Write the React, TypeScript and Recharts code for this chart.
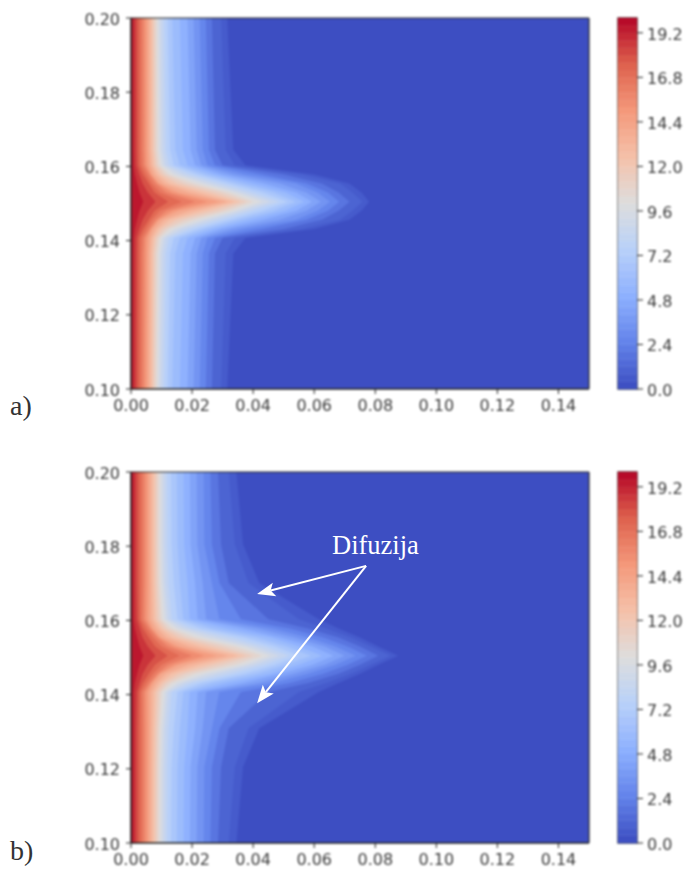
import {
  Area,
  Bar,
  BarChart,
  ComposedChart,
  ReferenceArea,
  ReferenceLine,
  XAxis,
  YAxis,
} from "recharts";

const xTicks = [0, 0.02, 0.04, 0.06, 0.08, 0.1, 0.12, 0.14];
const yTicks = [0.1, 0.12, 0.14, 0.16, 0.18, 0.2];
const barTicks = [0, 2.4, 4.8, 7.2, 9.6, 12, 14.4, 16.8, 19.2];

// contour levels drawn in the two plots
const levels = [
  0.4, 0.8, 1.6, 2.4, 3.2, 4, 4.8, 5.6, 6.4, 7.2, 8, 8.8, 9.6, 10.4, 11.2, 12, 12.8, 13.6, 14.4,
  15.2, 16, 16.8, 17.6, 18.4, 19.2,
];

// steps of the colorbar
const barLevels = [
  0, 0.4, 0.8, 1.2, 1.6, 2, 2.4, 2.8, 3.2, 3.6, 4, 4.4, 4.8, 5.2, 5.6, 6, 6.4, 6.8, 7.2, 7.6, 8,
  8.4, 8.8, 9.2, 9.6, 10, 10.4, 10.8, 11.2, 11.6, 12, 12.4, 12.8, 13.2, 13.6, 14, 14.4, 14.8, 15.2,
  15.6, 16, 16.4, 16.8, 17.2, 17.6, 18, 18.4, 18.8, 19.2, 19.6,
];

// y rows of plot a), the jet sits on the middle row
const rowsA = [
  0.1, 0.1365, 0.1407, 0.14315, 0.1456, 0.14805, 0.1505, 0.15295, 0.1554, 0.15785, 0.1603, 0.1645,
  0.2,
];

// x reach of each level, from the jet row outwards
const contoursA = [
  [0.078, 0.0755, 0.0715, 0.06, 0.0375, 0.0335, 0.0315],
  [0.0758, 0.0725, 0.0685, 0.056, 0.034, 0.031, 0.0295],
  [0.0716, 0.068, 0.0625, 0.05, 0.03, 0.0275, 0.0265],
  [0.0682, 0.0645, 0.0575, 0.043, 0.0275, 0.0255, 0.0245],
  [0.0652, 0.0611, 0.054, 0.0375, 0.025, 0.0235, 0.0225],
  [0.0622, 0.0574, 0.0487, 0.0333, 0.023, 0.0215, 0.0205],
  [0.0593, 0.0541, 0.0434, 0.0298, 0.021, 0.0195, 0.0185],
  [0.0567, 0.0505, 0.0389, 0.0271, 0.0185, 0.017, 0.016],
  [0.054, 0.0468, 0.0354, 0.0244, 0.016, 0.0145, 0.0135],
  [0.0513, 0.0432, 0.0325, 0.0219, 0.014, 0.0128, 0.012],
  [0.0486, 0.0397, 0.0296, 0.0193, 0.0125, 0.0114, 0.0108],
  [0.0457, 0.0368, 0.0265, 0.0167, 0.0112, 0.0103, 0.0098],
  [0.0429, 0.0344, 0.0236, 0.0145, 0.0102, 0.0094, 0.009],
  [0.04, 0.032, 0.0207, 0.0125, 0.0094, 0.0087, 0.0084],
  [0.0379, 0.0293, 0.0177, 0.0112, 0.0086, 0.008, 0.0078],
  [0.0358, 0.0259, 0.0149, 0.0099, 0.0079, 0.0074, 0.0072],
  [0.0337, 0.0225, 0.0125, 0.0089, 0.0072, 0.0068, 0.0067],
  [0.0316, 0.0191, 0.0108, 0.0079, 0.0065, 0.0061, 0.006],
  [0.029, 0.0156, 0.0093, 0.0069, 0.0058, 0.0055, 0.0054],
  [0.025, 0.0135, 0.0088, 0.0064, 0.005, 0.0048, 0.0047],
  [0.021, 0.0115, 0.008, 0.006, 0.0043, 0.0041, 0.004],
  [0.0167, 0.0095, 0.0068, 0.005, 0.0035, 0.0033, 0.0032],
  [0.0122, 0.0077, 0.0058, 0.0039, 0.0026, 0.0025, 0.0024],
  [0.008, 0.0055, 0.0038, 0.0027, 0.0018, 0.0017, 0.0016],
  [0.004, 0.0028, 0.002, 0.0013, 0.0009, 0.0008, 0.0008],
];

// y rows of plot b)
const rowsB = [
  0.1, 0.1205, 0.1309, 0.1407, 0.14315, 0.1456, 0.14805, 0.1505, 0.15295, 0.1554, 0.15785, 0.1603,
  0.1701, 0.1805, 0.2,
];

const contoursB = [
  [0.0875, 0.081, 0.075, 0.068, 0.0615, 0.042, 0.0367, 0.0345],
  [0.085, 0.0785, 0.072, 0.064, 0.055, 0.0385, 0.034, 0.032],
  [0.081, 0.075, 0.068, 0.058, 0.045, 0.032, 0.0295, 0.0285],
  [0.0773, 0.071, 0.063, 0.052, 0.036, 0.029, 0.0265, 0.026],
  [0.0736, 0.067, 0.058, 0.0465, 0.0289, 0.0265, 0.024, 0.0238],
  [0.07, 0.0635, 0.0535, 0.0415, 0.0246, 0.0235, 0.0217, 0.0215],
  [0.0664, 0.0595, 0.049, 0.0365, 0.0218, 0.021, 0.0195, 0.0193],
  [0.0627, 0.055, 0.0456, 0.0311, 0.0192, 0.0185, 0.0174, 0.0172],
  [0.059, 0.051, 0.0411, 0.0265, 0.0171, 0.016, 0.0152, 0.015],
  [0.055, 0.0474, 0.0371, 0.023, 0.0152, 0.014, 0.0133, 0.0131],
  [0.0517, 0.0439, 0.0329, 0.02, 0.0133, 0.0123, 0.0119, 0.0118],
  [0.0486, 0.0404, 0.0284, 0.0175, 0.0121, 0.0111, 0.0108, 0.0108],
  [0.0457, 0.0374, 0.0244, 0.0153, 0.0111, 0.0102, 0.0099, 0.0099],
  [0.0429, 0.0342, 0.021, 0.0134, 0.0101, 0.0094, 0.0092, 0.0092],
  [0.04, 0.0302, 0.018, 0.0119, 0.0093, 0.0087, 0.0085, 0.0085],
  [0.0375, 0.0262, 0.0155, 0.0106, 0.0084, 0.008, 0.0079, 0.0079],
  [0.035, 0.0224, 0.0132, 0.0095, 0.0076, 0.0073, 0.0072, 0.0072],
  [0.0317, 0.0189, 0.0114, 0.0084, 0.0067, 0.0066, 0.0065, 0.0065],
  [0.028, 0.0157, 0.0098, 0.0073, 0.0058, 0.0059, 0.0058, 0.0058],
  [0.024, 0.014, 0.0092, 0.0066, 0.005, 0.0051, 0.0051, 0.0051],
  [0.02, 0.012, 0.0085, 0.0061, 0.0042, 0.0043, 0.0043, 0.0043],
  [0.016, 0.01, 0.0072, 0.0051, 0.0034, 0.0035, 0.0035, 0.0035],
  [0.012, 0.0079, 0.0058, 0.0039, 0.0027, 0.0026, 0.0026, 0.0026],
  [0.008, 0.0055, 0.0038, 0.0028, 0.0019, 0.0017, 0.0017, 0.0017],
  [0.004, 0.0028, 0.002, 0.0013, 0.0009, 0.0009, 0.0009, 0.0009],
];

// annotation arrows of plot b), in data units
const arrowStart = { x: 0.077, y: 0.1747 };
const arrowEnds = [
  { x: 0.0413, y: 0.1671 },
  { x: 0.0413, y: 0.1377 },
];

// matplotlib coolwarm anchors
const coolwarm = [
  [59, 76, 192],
  [98, 130, 234],
  [141, 176, 254],
  [184, 208, 249],
  [221, 221, 221],
  [245, 193, 169],
  [244, 152, 122],
  [222, 97, 77],
  [180, 4, 38],
];

function colorOf(value: number) {
  const t = (Math.min(Math.max(value, 0), 20) / 20) * (coolwarm.length - 1);
  const i = Math.min(Math.floor(t), coolwarm.length - 2);
  const f = t - i;
  const c = coolwarm[i].map((v, k) => Math.round(v + (coolwarm[i + 1][k] - v) * f));
  return `rgb(${c[0]},${c[1]},${c[2]})`;
}

const tickStyle = { fontFamily: "DejaVu Sans", fontSize: 16, fill: "#3a3a3a" };
const axisStroke = { stroke: "#222" };
const softEdge = "blur(0.8px)";

function buildRows(rows: number[], contours: number[][]) {
  const mid = (rows.length - 1) / 2;
  return rows.map((y, i) => {
    const row: Record<string, number> = { y, floor: 0.15 };
    const col = Math.abs(i - mid);
    contours.forEach((c, j) => {
      row[`l${j}`] = c[col];
    });
    return row;
  });
}

function Arrow(props: any) {
  const { x1, y1, x2, y2 } = props;
  const a = Math.atan2(y2 - y1, x2 - x1);
  const len = 18;
  const wing = 7;
  const bx = x2 - len * Math.cos(a);
  const by = y2 - len * Math.sin(a);
  const nx = -Math.sin(a) * wing;
  const ny = Math.cos(a) * wing;
  const nb = 14;
  const mx = x2 - nb * Math.cos(a);
  const my = y2 - nb * Math.sin(a);
  return (
    <g>
      <line x1={x1} y1={y1} x2={mx} y2={my} stroke="#fff" strokeWidth={2} />
      <polygon
        points={`${x2},${y2} ${bx + nx},${by + ny} ${mx},${my} ${bx - nx},${by - ny}`}
        fill="#fff"
      />
    </g>
  );
}

function ContourPlot({ rows, contours }: { rows: number[]; contours: number[][] }) {
  const data = buildRows(rows, contours);
  return (
    <ComposedChart
      width={600}
      height={430}
      layout="vertical"
      data={data}
      margin={{ top: 18, right: 11, bottom: 11, left: 71 }}
    >
      <XAxis
        type="number"
        dataKey={undefined}
        domain={[0, 0.15]}
        ticks={xTicks}
        interval={0}
        tickFormatter={(v: number) => v.toFixed(2)}
        tick={tickStyle}
        tickSize={5}
        tickMargin={6}
        tickLine={axisStroke}
        axisLine={axisStroke}
        height={30}
        allowDataOverflow
      />
      <YAxis
        type="number"
        dataKey="y"
        domain={[0.1, 0.2]}
        reversed
        ticks={yTicks}
        interval={0}
        tickFormatter={(v: number) => v.toFixed(2)}
        tick={{ ...tickStyle, dy: 1 }}
        tickSize={5}
        tickMargin={6}
        tickLine={axisStroke}
        axisLine={axisStroke}
        width={60}
        allowDataOverflow
      />
      <Area
        dataKey="floor"
        type="linear"
        fill={colorOf(0.1)}
        fillOpacity={1}
        stroke="none"
        dot={false}
        activeDot={false}
        isAnimationActive={false}
      />
      {levels.map((level, j) => (
        <Area
          key={level}
          dataKey={`l${j}`}
          type="linear"
          fill={colorOf(level + 0.3)}
          fillOpacity={1}
          stroke="none"
          dot={false}
          activeDot={false}
          isAnimationActive={false}
        />
      ))}
      <ReferenceLine x={0} stroke="#222" strokeWidth={1.2} />
      <ReferenceLine x={0.15} stroke="#222" strokeWidth={1.2} />
      <ReferenceLine y={0.1} stroke="#222" strokeWidth={1.2} />
      <ReferenceLine y={0.2} stroke="#222" strokeWidth={1.2} />
    </ComposedChart>
  );
}

// the arrows were pasted on top of the picture, so they stay sharp
function ArrowLayer() {
  return (
    <ComposedChart
      width={600}
      height={430}
      data={[arrowStart, ...arrowEnds]}
      margin={{ top: 18, right: 11, bottom: 41, left: 131 }}
    >
      <XAxis type="number" dataKey="x" domain={[0, 0.15]} hide allowDataOverflow />
      <YAxis type="number" dataKey="y" domain={[0.1, 0.2]} hide allowDataOverflow />
      {arrowEnds.map((end) => (
        <ReferenceLine key={end.y} segment={[arrowStart, end]} stroke="#fff" shape={<Arrow />} />
      ))}
    </ComposedChart>
  );
}

function ColorBar() {
  const row: Record<string, number | string> = { name: "bar" };
  barLevels.forEach((level, i) => {
    row[`b${i}`] = (barLevels[i + 1] ?? 20) - level;
  });
  return (
    <BarChart
      width={85}
      height={430}
      data={[row]}
      barCategoryGap={0}
      margin={{ top: 18, right: 0, bottom: 41, left: 18 }}
    >
      <XAxis dataKey="name" hide />
      <YAxis
        orientation="right"
        type="number"
        domain={[0, 20]}
        ticks={barTicks}
        interval={0}
        tickFormatter={(v: number) => v.toFixed(1)}
        tick={{ ...tickStyle, dy: 1 }}
        tickSize={6}
        tickMargin={4}
        tickLine={axisStroke}
        axisLine={false}
        width={48}
      />
      {barLevels.map((level, i) => (
        <Bar
          key={level}
          dataKey={`b${i}`}
          stackId="bar"
          fill={colorOf(level + 0.2)}
          stroke={colorOf(level + 0.2)}
          strokeWidth={0.5}
          isAnimationActive={false}
        />
      ))}
      <ReferenceArea y1={0} y2={20} fill="none" stroke="#444" strokeWidth={1.5} />
    </BarChart>
  );
}

const captionStyle = {
  position: "absolute" as const,
  fontFamily: "Liberation Serif",
  color: "#333",
  fontSize: 28,
  lineHeight: "30px",
};

export default function App() {
  return (
    <div style={{ position: "absolute", left: 0, top: 0, width: 685, height: 871, background: "#fff" }}>
      <div style={{ position: "absolute", left: 0, top: 0, filter: softEdge }}>
        <ContourPlot rows={rowsA} contours={contoursA} />
      </div>
      <div style={{ position: "absolute", left: 600, top: 0, filter: softEdge }}>
        <ColorBar />
      </div>
      <div style={{ position: "absolute", left: 0, top: 454, filter: softEdge }}>
        <ContourPlot rows={rowsB} contours={contoursB} />
      </div>
      <div style={{ position: "absolute", left: 0, top: 454 }}>
        <ArrowLayer />
      </div>
      <div style={{ position: "absolute", left: 600, top: 454, filter: softEdge }}>
        <ColorBar />
      </div>
      <div style={{ ...captionStyle, left: 10, top: 391 }}>a)</div>
      <div style={{ ...captionStyle, left: 10, top: 836 }}>b)</div>
      <div style={{ ...captionStyle, fontSize: 26.5, left: 332, top: 530, color: "#fff" }}>Difuzija</div>
    </div>
  );
}
